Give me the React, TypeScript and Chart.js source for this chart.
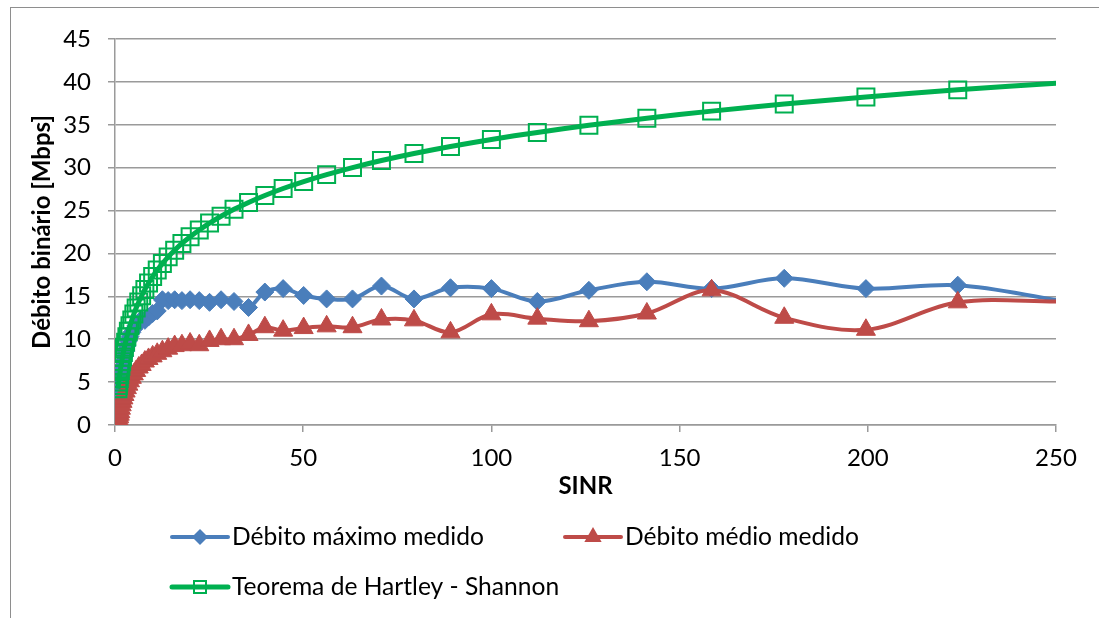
import React, { useEffect, useRef } from 'react';
import { Chart, registerables } from 'chart.js';

Chart.register(...registerables);

// SINR (linear) at which the measurements were taken
const sinr = [
  0.5, 0.56, 0.63, 0.71, 0.79, 0.89, 1.0, 1.12, 1.26, 1.41,
  1.58, 1.78, 2.0, 2.24, 2.51, 2.82, 3.16, 3.55, 3.98, 4.47,
  5.01, 5.62, 6.31, 7.08, 7.94, 8.91, 10.0, 11.22, 12.59, 14.13,
  15.85, 17.78, 19.95, 22.39, 25.12, 28.18, 31.62, 35.48, 39.81, 44.67,
  50.12, 56.23, 63.1, 70.79, 79.43, 89.13, 100.0, 112.2, 125.9, 141.3,
  158.5, 177.8, 199.5, 223.9, 251.2,
];

// Débito máximo medido [Mbps]
const debitoMaximo = [
  0.2, 0.5, 0.9, 1.4, 2.0, 2.6, 3.2, 3.8, 4.4, 5.0,
  5.6, 6.2, 6.8, 7.4, 8.0, 8.6, 9.2, 9.8, 10.3, 10.8,
  11.2, 11.6, 12.0, 12.3, 12.2, 12.6, 13.0, 13.3, 14.6, 14.5,
  14.6, 14.5, 14.6, 14.5, 14.3, 14.6, 14.4, 13.7, 15.5, 15.9,
  15.1, 14.7, 14.7, 16.2, 14.7, 16.0, 15.9, 14.4, 15.7, 16.7,
  15.9, 17.1, 15.9, 16.3, 14.5,
];

// Débito médio medido [Mbps]
const debitoMedio = [
  0.0, 0.0, 0.0, 0.1, 0.2, 0.4, 0.6, 0.9, 1.2, 1.5,
  1.9, 2.3, 2.7, 3.1, 3.5, 3.9, 4.3, 4.7, 5.1, 5.5,
  5.9, 6.3, 6.7, 7.0, 7.4, 7.7, 8.0, 8.3, 8.6, 8.9,
  9.2, 9.3, 9.5, 9.3, 9.8, 10.0, 10.0, 10.5, 11.4, 11.0,
  11.3, 11.5, 11.4, 12.3, 12.2, 10.8, 12.9, 12.4, 12.1, 13.0,
  15.7, 12.5, 11.1, 14.3, 14.4,
];

// Teorema de Hartley - Shannon
const shannonSinr = [
  0.79, 0.89, 1.0, 1.12, 1.26, 1.41, 1.58, 1.78, 2.0, 2.24,
  2.51, 2.82, 3.16, 3.55, 3.98, 4.47, 5.01, 5.62, 6.31, 7.08,
  7.94, 8.91, 10.0, 11.22, 12.59, 14.13, 15.85, 17.78, 19.95, 22.39,
  25.12, 28.18, 31.62, 35.48, 39.81, 44.67, 50.12, 56.23, 63.1, 70.79,
  79.43, 89.13, 100.0, 112.2, 125.9, 141.3, 158.5, 177.8, 199.5, 223.9,
  251.2,
];
const shannon = [
  4.22, 4.59, 5.0, 5.43, 5.88, 6.35, 6.85, 7.37, 7.92, 8.48,
  9.06, 9.66, 10.29, 10.93, 11.58, 12.25, 12.94, 13.64, 14.35, 15.07,
  15.8, 16.55, 17.3, 18.06, 18.82, 19.6, 20.37, 21.16, 21.95, 22.74,
  23.54, 24.34, 25.14, 25.95, 26.76, 27.57, 28.38, 29.19, 30.01, 30.83,
  31.65, 32.47, 33.29, 34.11, 34.94, 35.76, 36.59, 37.41, 38.24, 39.07,
  39.89,
];

const seriesNames = ['Débito máximo medido', 'Débito médio medido', 'Teorema de Hartley - Shannon'];
const xTitle = 'SINR';
const yTitle = 'Débito binário [Mbps]';
const xMin = 0;
const xMax = 250;
const xStep = 50;
const yMin = 0;
const yMax = 45;
const yStep = 5;

const BLUE = '#4A7EBB';
const RED = '#BE4B48';
const GREEN = '#00B050';
const GRID = '#9A9A9A';
const FONT = 'Lato, "Open Sans", sans-serif';

const toPoints = (xs: number[], ys: number[]) => xs.map((x, i) => ({ x, y: ys[i] }));

const hideOutside = (r: number) => (c: any) => (c.raw && c.raw.x > xMax ? 0 : r);

function drawMarker(ctx: CanvasRenderingContext2D, kind: string, x: number, y: number) {
  ctx.save();
  if (kind === 'diamond') {
    const r = 8;
    ctx.fillStyle = BLUE;
    ctx.beginPath();
    ctx.moveTo(x - r, y);
    ctx.lineTo(x, y - r);
    ctx.lineTo(x + r, y);
    ctx.lineTo(x, y + r);
    ctx.closePath();
    ctx.fill();
  } else if (kind === 'triangle') {
    const r = 10;
    ctx.fillStyle = RED;
    ctx.beginPath();
    ctx.moveTo(x, y - r);
    ctx.lineTo(x + r * 0.866, y + r / 2);
    ctx.lineTo(x - r * 0.866, y + r / 2);
    ctx.closePath();
    ctx.fill();
  } else {
    const s = 6;
    ctx.strokeStyle = GREEN;
    ctx.lineWidth = 2;
    ctx.strokeRect(x - s, y - s, 2 * s, 2 * s);
  }
  ctx.restore();
}

const excelLegend = {
  id: 'excelLegend',
  afterDraw(chart: any) {
    const ctx: CanvasRenderingContext2D = chart.ctx;
    const items = [
      { name: seriesNames[0], color: BLUE, width: 4, marker: 'diamond', x: 170, y: 537 },
      { name: seriesNames[1], color: RED, width: 4, marker: 'triangle', x: 563, y: 537 },
      { name: seriesNames[2], color: GREEN, width: 5, marker: 'square', x: 170, y: 587 },
    ];
    ctx.save();
    for (const it of items) {
      ctx.strokeStyle = it.color;
      ctx.lineWidth = it.width;
      ctx.lineCap = 'round';
      ctx.beginPath();
      ctx.moveTo(it.x + 2, it.y);
      ctx.lineTo(it.x + 58, it.y);
      ctx.stroke();
      drawMarker(ctx, it.marker, it.x + 30, it.y);
      ctx.fillStyle = '#000';
      ctx.font = '24.6px ' + FONT;
      ctx.textAlign = 'left';
      ctx.textBaseline = 'middle';
      ctx.fillText(it.name, it.x + 62, it.y);
    }
    ctx.restore();
  },
};

export default function App() {
  const ref = useRef<HTMLCanvasElement>(null);

  useEffect(() => {
    if (!ref.current) return;
    Chart.defaults.font.family = FONT;
    Chart.defaults.color = '#000';
    const chart = new Chart(ref.current, {
      type: 'line',
      data: {
        datasets: [
          {
            label: seriesNames[0],
            data: toPoints(sinr, debitoMaximo),
            borderColor: BLUE,
            backgroundColor: BLUE,
            borderWidth: 4,
            pointStyle: 'rectRot',
            pointRadius: hideOutside(9),
            pointBackgroundColor: BLUE,
            pointBorderColor: BLUE,
            pointBorderWidth: 1,
            tension: 0.35,
            order: 2,
          },
          {
            label: seriesNames[1],
            data: toPoints(sinr, debitoMedio),
            borderColor: RED,
            backgroundColor: RED,
            borderWidth: 4,
            pointStyle: 'triangle',
            pointRadius: hideOutside(11),
            pointBackgroundColor: RED,
            pointBorderColor: RED,
            pointBorderWidth: 1,
            tension: 0.35,
            order: 1,
          },
          {
            label: seriesNames[2],
            data: toPoints(shannonSinr, shannon),
            borderColor: GREEN,
            backgroundColor: 'rgba(0,0,0,0)',
            borderWidth: 5,
            pointStyle: 'rect',
            pointRadius: hideOutside(12),
            pointBackgroundColor: 'rgba(0,0,0,0)',
            pointBorderColor: GREEN,
            pointBorderWidth: 2,
            tension: 0.35,
            order: 0,
          },
        ],
      },
      options: {
        responsive: false,
        devicePixelRatio: 1,
        animation: false,
        events: [],
        layout: { padding: { top: 39, right: 43, bottom: 117, left: 0 } },
        plugins: {
          legend: { display: false },
          tooltip: { enabled: false },
        },
        scales: {
          x: {
            type: 'linear',
            min: xMin,
            max: xMax,
            ticks: { stepSize: xStep, font: { size: 24 }, color: '#000', padding: 12, maxRotation: 0 },
            grid: { drawOnChartArea: false, drawTicks: true, tickLength: 7, color: GRID, lineWidth: 1.5 },
            border: { display: true, color: GRID, width: 1.5 },
            title: { display: true, text: xTitle, font: { size: 24, weight: 'bold' }, color: '#000', padding: { top: 0, bottom: 0 } },
            afterFit: (s: any) => { s.height = 76; },
          },
          y: {
            min: yMin,
            max: yMax,
            ticks: { stepSize: yStep, font: { size: 24 }, color: '#000', padding: 17 },
            grid: { drawOnChartArea: true, drawTicks: true, tickLength: 7, color: GRID, lineWidth: 1.5 },
            border: { display: true, color: GRID, width: 1.5 },
            title: { display: true, text: yTitle, font: { size: 24, weight: 'bold' }, color: '#000', padding: { top: 28, bottom: 0 } },
            afterFit: (s: any) => { s.width = 115; },
          },
        },
      },
      plugins: [excelLegend],
    } as any);
    return () => chart.destroy();
  }, []);

  return (
    <div style={{ position: 'fixed', left: 0, top: 0, width: 1099, height: 618, overflow: 'hidden', background: '#fff' }}>
      <div style={{ position: 'absolute', left: 10, top: 7, width: 1300, height: 900, border: '1px solid #8E8E8E' }} />
      <canvas ref={ref} width={1099} height={618} style={{ position: 'absolute', left: 0, top: 0, width: 1099, height: 618 }} />
    </div>
  );
}
